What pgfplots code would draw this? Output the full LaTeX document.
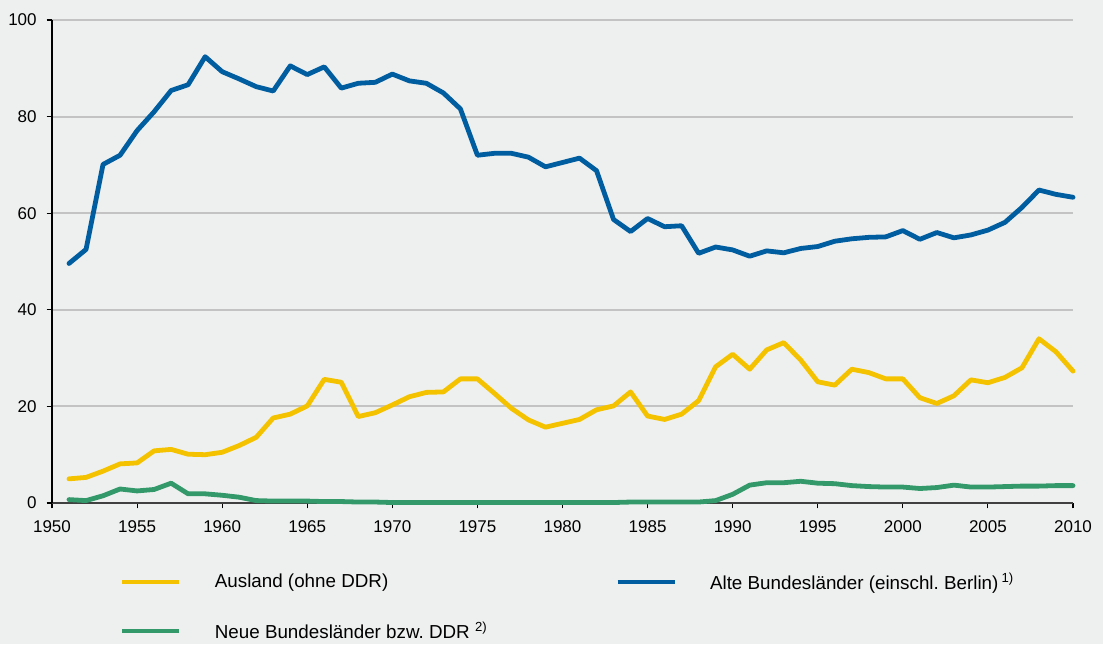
\documentclass[border=0pt]{standalone}
\usepackage{fontspec}
\setmainfont{Liberation Sans}
\usepackage{pgfplots}
\pgfplotsset{compat=1.18}
\definecolor{bgc}{HTML}{EEF0EF}
\definecolor{gridc}{HTML}{C2C3C2}
\definecolor{alteblue}{HTML}{005DA0}
\definecolor{auslandyellow}{HTML}{F5C200}
\definecolor{neuegreen}{HTML}{33996A}

\begin{document}
\frenchspacing
\begin{tikzpicture}
% background, 1px = 0.75pt, axis box at (0,0)
\fill[bgc] (-39pt,-105.75pt) rectangle (788.25pt,377.25pt);
\begin{axis}[
    scale only axis,
    width=765.75pt, height=362.25pt,
    xmin=1950, xmax=2010, ymin=0, ymax=100,
    xtick={1950,1955,...,2010}, ytick={0,20,...,100},
    axis x line*=bottom, axis y line*=left,
    x axis line style={black!75, line width=0.8pt},
    y axis line style={black, line width=0.8pt},
    tick align=outside, major tick length=4pt,
    tick style={black, line width=0.8pt},
    ymajorgrids, grid style={gridc, line width=1.6pt},
    /pgf/number format/set thousands separator={},
    /pgf/number format/assume math mode=true,
    tick label style={font=\fontsize{12.75}{15}\selectfont},
    xticklabel style={yshift=-6pt},
    yticklabel style={xshift=-4pt},
    clip=false,
    every axis plot/.append style={line width=3.6pt, line join=round, line cap=round},
    legend columns=2,
    legend image code/.code={\draw[#1, line width=3.2pt, line cap=butt] (0pt,0pt) -- (42.75pt,0pt);},
    legend style={draw=none, fill=none, at={(axis description cs:0,0)}, anchor=north west,
        xshift=51pt, yshift=-52pt, inner sep=0pt,
        font=\fontsize{14.1}{16}\selectfont,
        nodes={inner sep=0pt, anchor=west},
        row sep=23pt,
        /tikz/every odd column/.append style={column sep=25pt},
        /tikz/every even column/.append style={column sep=96pt}},
]
\addplot[auslandyellow] coordinates {
(1951,5.0) (1952,5.3) (1953,6.6) (1954,8.1) (1955,8.3) (1956,10.8) (1957,11.1)
(1958,10.1) (1959,10.0) (1960,10.5) (1961,11.9) (1962,13.6) (1963,17.6) (1964,18.4)
(1965,20.1) (1966,25.6) (1967,25.0) (1968,17.9) (1969,18.7) (1970,20.3) (1971,22.0)
(1972,22.9) (1973,23.0) (1974,25.7) (1975,25.7) (1976,22.7) (1977,19.6) (1978,17.2)
(1979,15.7) (1980,16.5) (1981,17.3) (1982,19.3) (1983,20.1) (1984,23.0) (1985,18.0)
(1986,17.3) (1987,18.4) (1988,21.2) (1989,28.2) (1990,30.8) (1991,27.7) (1992,31.7)
(1993,33.2) (1994,29.6) (1995,25.1) (1996,24.4) (1997,27.7) (1998,27.0) (1999,25.7)
(2000,25.7) (2001,21.8) (2002,20.6) (2003,22.2) (2004,25.5) (2005,24.9) (2006,26.0)
(2007,28.0) (2008,34.0) (2009,31.3) (2010,27.3)
};
\addlegendentry{Ausland (ohne DDR)}
\addplot[alteblue] coordinates {
(1951,49.6) (1952,52.5) (1953,70.1) (1954,72.0) (1955,77.1) (1956,81.0) (1957,85.4)
(1958,86.6) (1959,92.4) (1960,89.3) (1961,87.8) (1962,86.2) (1963,85.3) (1964,90.5)
(1965,88.7) (1966,90.3) (1967,85.9) (1968,86.9) (1969,87.1) (1970,88.8) (1971,87.4)
(1972,86.9) (1973,84.9) (1974,81.6) (1975,72.0) (1976,72.4) (1977,72.4) (1978,71.6)
(1979,69.6) (1980,70.5) (1981,71.4) (1982,68.8) (1983,58.7) (1984,56.2) (1985,58.9)
(1986,57.2) (1987,57.4) (1988,51.7) (1989,53.0) (1990,52.4) (1991,51.1) (1992,52.2)
(1993,51.8) (1994,52.7) (1995,53.1) (1996,54.2) (1997,54.7) (1998,55.0) (1999,55.1)
(2000,56.4) (2001,54.6) (2002,56.0) (2003,54.9) (2004,55.5) (2005,56.5) (2006,58.1)
(2007,61.2) (2008,64.8) (2009,63.9) (2010,63.3)
};
\addlegendentry{Alte Bundesländer (einschl. Berlin)\,\textsuperscript{1)}}
\addplot[neuegreen] coordinates {
(1951,0.7) (1952,0.5) (1953,1.5) (1954,2.9) (1955,2.5) (1956,2.8) (1957,4.1)
(1958,1.9) (1959,1.9) (1960,1.6) (1961,1.2) (1962,0.5) (1963,0.4) (1964,0.4)
(1965,0.4) (1966,0.3) (1967,0.3) (1968,0.2) (1969,0.2) (1970,0.1) (1971,0.1)
(1972,0.1) (1973,0.1) (1974,0.1) (1975,0.1) (1976,0.1) (1977,0.1) (1978,0.1)
(1979,0.1) (1980,0.1) (1981,0.1) (1982,0.1) (1983,0.1) (1984,0.2) (1985,0.2)
(1986,0.2) (1987,0.2) (1988,0.2) (1989,0.5) (1990,1.8) (1991,3.7) (1992,4.2)
(1993,4.2) (1994,4.5) (1995,4.1) (1996,4.0) (1997,3.6) (1998,3.4) (1999,3.3)
(2000,3.3) (2001,3.0) (2002,3.2) (2003,3.7) (2004,3.3) (2005,3.3) (2006,3.4)
(2007,3.5) (2008,3.5) (2009,3.6) (2010,3.6)
};
\addlegendentry{Neue Bundesländer bzw. DDR \textsuperscript{2)}}
\end{axis}
\end{tikzpicture}
\end{document}
